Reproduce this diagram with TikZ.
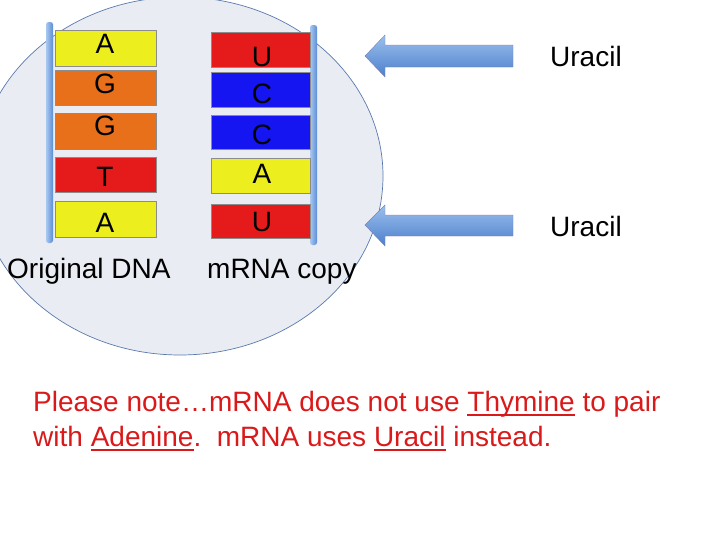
\documentclass[tikz,border=0pt]{standalone}
\usepackage{fontspec}
\setmainfont{Liberation Sans}
\newcommand\myul[1]{\leavevmode\setbox0\hbox{#1}\rlap{\raisebox{-4.5pt}{\rule{\wd0}{1.6pt}}}\box0\relax}
\begin{document}
\begin{tikzpicture}[x=1pt,y=-1pt,
  base/.style={draw=black!45, line width=0.6pt},
  rail/.style={draw=none, left color=railL, right color=railR, rounded corners=2.5pt},
  blockarrow/.style={draw=blue!40!black!50, line width=0.4pt, top color=arrowTop, bottom color=arrowBot},
  lett/.style={font=\fontsize{28}{28}\selectfont, inner sep=0pt},
  lbl/.style={font=\fontsize{28}{28}\selectfont, inner sep=0pt, anchor=base west},
  note/.style={font=\fontsize{28}{28}\selectfont, text=noteRed, inner sep=0pt, anchor=base west}]
\definecolor{cellFill}{HTML}{E9ECF3}
\definecolor{cellLine}{HTML}{5A7AAE}
\definecolor{yel}{HTML}{EDEE1E}
\definecolor{ora}{HTML}{E8701A}
\definecolor{redb}{HTML}{E51B1B}
\definecolor{blu}{HTML}{1515F2}
\definecolor{arrowTop}{HTML}{9CC0EE}
\definecolor{arrowBot}{HTML}{4C7FCB}
\definecolor{railL}{HTML}{A9C8F0}
\definecolor{railR}{HTML}{5C8DD6}
\definecolor{noteRed}{HTML}{DA1A1A}
\useasboundingbox (0,0) rectangle (728,546);
\begin{scope}
\clip (0,0) rectangle (728,546);
\fill[white] (0,0) rectangle (728,546);
\draw[fill=cellFill, draw=cellLine, line width=0.7pt] (180,176) ellipse [x radius=203, y radius=179];
\end{scope}
% rails
\shade[rail] (46,22) rectangle (53,243);
\shade[rail] (310,25) rectangle (317,245);
% left boxes
\draw[base, fill=yel] (55,30) rectangle (156,66);
\draw[base, fill=ora] (55,70) rectangle (156,105);
\draw[base, fill=ora] (55,113) rectangle (156,149);
\draw[base, fill=redb] (55,157) rectangle (156,192);
\draw[base, fill=yel] (55,201) rectangle (156,237);
\node[lett] (l1) at (105,44) {A};
\node[lett] (l2) at (105,84) {G};
\node[lett] (l3) at (105,126) {G};
\node[lett] (l4) at (105,177) {T};
\node[lett] (l5) at (105,223) {A};
% right boxes
\draw[base, fill=redb] (211,32) rectangle (310,67);
\draw[base, fill=blu] (211,72) rectangle (310,107);
\draw[base, fill=blu] (211,115) rectangle (310,149);
\draw[base, fill=yel] (211,158) rectangle (310,193);
\draw[base, fill=redb] (211,204) rectangle (310,238);
\node[lett] (r1) at (262,57) {U};
\node[lett] (r2) at (262,94) {C};
\node[lett] (r3) at (262,135) {C};
\node[lett] (r4) at (262,174) {A};
\node[lett] (r5) at (262,222) {U};
% labels
\node[lbl] (orig) at (7,278) {Original DNA};
\node[lbl] (mrna) at (207,278) {mRNA copy};
% block arrows
\draw[blockarrow] (365,56) -- (385,35) -- (385,45) -- (513,45) -- (513,67) -- (385,67) -- (385,77) -- cycle;
\draw[blockarrow] (365,225) -- (385,205) -- (385,215) -- (513,215) -- (513,236) -- (385,236) -- (385,246) -- cycle;
\node[lbl] (u1) at (550,66) {Uracil};
\node[lbl] (u2) at (550,236) {Uracil};
% note
\node[note] (n1) at (33,411) {Please note…mRNA does not use \myul{Thymine} to pair};
\node[note] (n2) at (33,446) {with \myul{Adenine}.\ \ mRNA uses \myul{Uracil} instead.};
\end{tikzpicture}
\end{document}
